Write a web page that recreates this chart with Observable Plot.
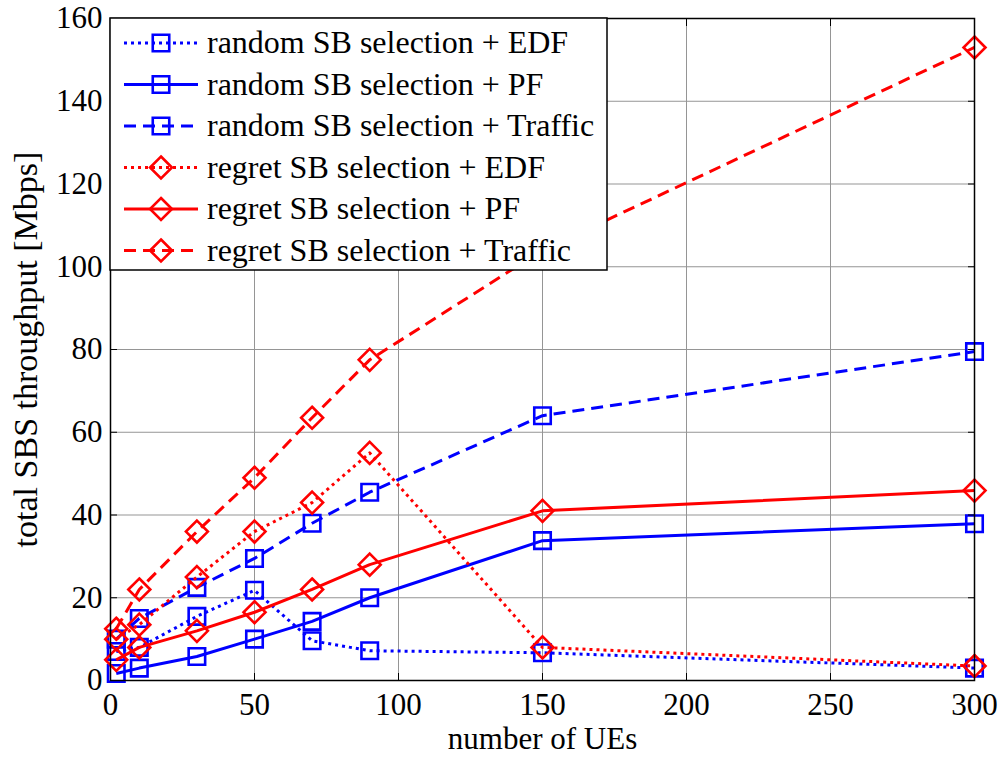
<!DOCTYPE html>
<html><head><meta charset="utf-8">
<script src="https://cdn.jsdelivr.net/npm/d3@7"></script>
<script src="https://cdn.jsdelivr.net/npm/@observablehq/plot@0.6"></script>
<style>
body{margin:0;background:#fff;}
#chart svg, #chart svg text{font-family:"Liberation Serif","Times New Roman",serif !important;}
</style>
</head><body><div id="chart"></div>
<script>
// ---- data ----
const ues = [2, 10, 30, 50, 70, 90, 150, 300];
const randomEDF     = [7, 8, 15.5, 21.8, 9.6, 7.2, 6.7, 3.0];
const randomPF      = [1.7, 3, 5.8, 10, 14.3, 20, 33.8, 37.9];
const randomTraffic = [10, 15, 22.5, 29.5, 38, 45.5, 64, 79.5];
const regretEDF     = [10, 13.5, 25, 36, 43, 55, 8, 3.5];
const regretPF      = [5, 8, 12, 16.5, 22, 28, 41, 45.9];
const regretTraffic = [12.5, 22, 36, 49, 63.5, 77.5, 104, 153];
const seriesNames = [
  "random SB selection + EDF",
  "random SB selection + PF",
  "random SB selection + Traffic",
  "regret SB selection + EDF",
  "regret SB selection + PF",
  "regret SB selection + Traffic"
];
const seriesValues = [randomEDF, randomPF, randomTraffic, regretEDF, regretPF, regretTraffic];
const xTicks = [0, 50, 100, 150, 200, 250, 300];
const yTicks = [0, 20, 40, 60, 80, 100, 120, 140, 160];
const xLabel = "number of UEs";
const yLabel = "total SBS throughput [Mbps]";

// ---- styles ----
const colors = ["#0000ff", "#0000ff", "#0000ff", "#ff0000", "#ff0000", "#ff0000"];
const dashes = ["3,4", null, "12,7", "3,4", null, "12,7"];
const symbols = ["square", "square", "square", "diamond2", "diamond2", "diamond2"];
const radii = [9.3, 9.3, 9.3, 9.9, 9.9, 9.9];
const FONT = '"Liberation Serif", "Times New Roman", serif';

const rows = seriesNames.flatMap((name, i) =>
  ues.map((x, j) => ({series: name, x, y: seriesValues[i][j]})));

const W = 1004, H = 758;
const mL = 110, mR = 30, mT = 18, mB = 78;

const seriesMarks = seriesNames.flatMap((name, i) => {
  const d = rows.filter(r => r.series === name);
  return [
    Plot.line(d, {x: "x", y: "y", stroke: colors[i], strokeWidth: 3,
      strokeDasharray: dashes[i] || undefined, strokeLinecap: "butt"}),
    Plot.dot(d, {x: "x", y: "y", stroke: colors[i], strokeWidth: 2.6, fill: "none",
      symbol: symbols[i], r: radii[i]})
  ];
});

const plot = Plot.plot({
  width: W, height: H,
  marginLeft: mL, marginRight: mR, marginTop: mT, marginBottom: mB,
  style: {fontFamily: FONT, fontSize: "31px", background: "#fff"},
  x: {domain: [0, 300]},
  y: {domain: [0, 160]},
  marks: [
    Plot.gridX(xTicks, {stroke: "#959595", strokeOpacity: 1, strokeWidth: 1}),
    Plot.gridY(yTicks, {stroke: "#959595", strokeOpacity: 1, strokeWidth: 1}),
    ...seriesMarks,
    Plot.axisX(xTicks, {anchor: "bottom", tickSize: -7, tickPadding: 19, fontSize: 31, fill: "#000",
      label: xLabel, labelAnchor: "center", labelArrow: "none", labelOffset: 68}),
    Plot.axisX(xTicks, {anchor: "top", tickSize: -7, tickFormat: () => "", label: null}),
    Plot.axisY(yTicks, {anchor: "left", tickSize: -7, tickPadding: 15, fontSize: 31, fill: "#000",
      label: yLabel, labelAnchor: "center", labelArrow: "none", labelOffset: 98}),
    Plot.axisY(yTicks, {anchor: "right", tickSize: -7, tickFormat: () => "", label: null}),
    Plot.frame({stroke: "#000", strokeWidth: 1.5})
  ]
});

document.getElementById("chart").appendChild(plot);

const svg = d3.select(plot);
svg.attr("font-family", FONT).style("font-family", FONT);
svg.selectAll("text").attr("font-family", FONT).style("font-family", FONT).attr("fill", "#000");
svg.selectAll("[aria-label='x-axis tick label'] text, [aria-label='y-axis tick label'] text")
  .attr("font-size", 31).style("font-size", "31px");
svg.selectAll("[aria-label='x-axis label'] text")
  .attr("font-size", 31).style("font-size", "31px");
svg.selectAll("[aria-label='y-axis label'] text")
  .attr("font-size", 34).style("font-size", "34px");

// ---- legend (drawn over the plot, like the original) ----
const lg = svg.append("g").attr("class", "legend");
const boxX = mL, boxY = mT, boxW = 497, rowH = 41.5;
lg.append("rect").attr("x", boxX).attr("y", boxY).attr("width", boxW).attr("height", rowH * 6 + 3)
  .attr("fill", "#fff").attr("stroke", "#000").attr("stroke-width", 1.5);
seriesNames.forEach((name, i) => {
  const cy = boxY + 25 + i * rowH;
  lg.append("line").attr("x1", boxX + 14).attr("x2", boxX + 88).attr("y1", cy).attr("y2", cy)
    .attr("stroke", colors[i]).attr("stroke-width", 3)
    .attr("stroke-dasharray", dashes[i] || null);
  const sym = d3.symbol(symbols[i] === "square" ? d3.symbolSquare : d3.symbolDiamond2,
    Math.PI * radii[i] * radii[i]);
  lg.append("path").attr("d", sym()).attr("transform", `translate(${boxX + 51},${cy})`)
    .attr("fill", "none").attr("stroke", colors[i]).attr("stroke-width", 2.6);
  lg.append("text").attr("x", boxX + 97).attr("y", cy + 10)
    .attr("text-anchor", "start").attr("font-family", FONT).style("font-family", FONT)
    .attr("font-size", 32).style("font-size", "32px").attr("fill", "#000").text(name);
});
</script>
</body></html>
